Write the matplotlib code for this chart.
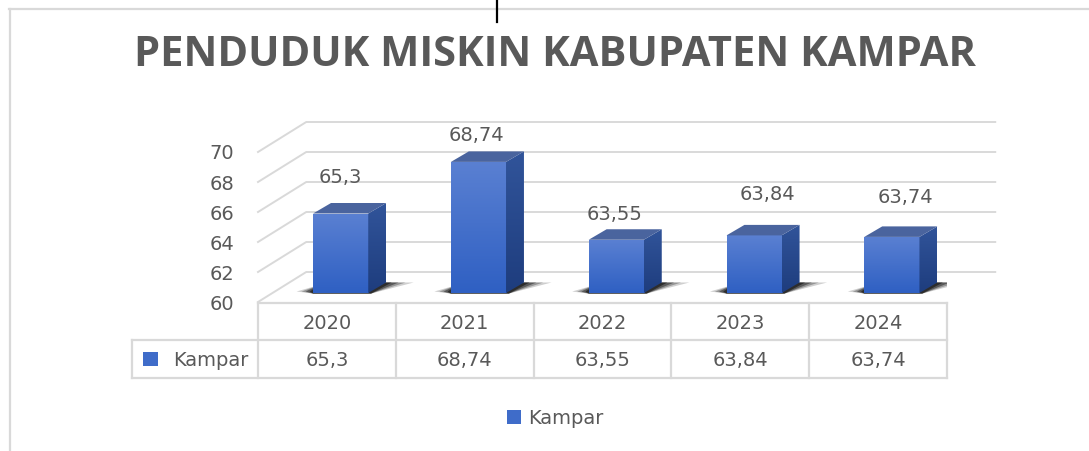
import matplotlib
matplotlib.use("Agg")
import matplotlib.pyplot as plt
import numpy as np
from matplotlib.patches import Polygon, Rectangle, Patch
from matplotlib.colors import LinearSegmentedColormap
from matplotlib.lines import Line2D
from matplotlib.transforms import blended_transform_factory

# data
YEARS = ["2020", "2021", "2022", "2023", "2024"]
KAMPAR = [65.3, 68.74, 63.55, 63.84, 63.74]
SERIES = "Kampar"
TITLE = "PENDUDUK MISKIN KABUPATEN KAMPAR"
Y_TICKS = [60, 62, 64, 66, 68, 70]

# styling / layout
W_PX, H_PX = 1089, 451
TEXT = "#595959"
GRID = "#d9d9d9"
KEY = "#3f6cc9"
FRONT = LinearSegmentedColormap.from_list("front", ["#2f60c3", "#5a80d2"])
SIDE = LinearSegmentedColormap.from_list("side", ["#1e3d7e", "#31549a"])
TOP_COL = "#4a649e"
WALL_DX, WALL_DY = 0.35, 2.0
BAR_SHIFT, BAR_W, BAR_LIFT = 0.1, 0.4, 0.6
SIDE_DX, SIDE_DY = 0.13, 0.7
LABEL_DX = [0, -0.015, -0.015, 0.1, 0.095]
LABEL_DY = [2.4, 1.75, 1.65, 2.7, 2.65]
FS = 14


def fmt(v):
    return f"{v:g}".replace(".", ",")


plt.rcParams['font.family'] = ['DejaVu Sans']

fig = plt.figure(figsize=(W_PX / 100, H_PX / 100), dpi=100)
fig.patch.set_facecolor("white")

# chart frame + cursor line
fig.add_artist(Line2D([9 / W_PX, 1], [1 - 9 / H_PX, 1 - 9 / H_PX], transform=fig.transFigure, color=GRID, lw=1.6))
fig.add_artist(Line2D([10 / W_PX, 10 / W_PX], [0, 1 - 9 / H_PX], transform=fig.transFigure, color=GRID, lw=1.6))
fig.add_artist(Line2D([497 / W_PX, 497 / W_PX], [1, 1 - 22 / H_PX], transform=fig.transFigure, color="black", lw=1.6))

fig.text(555 / W_PX, 1 - 56 / H_PX, TITLE, ha="center", va="center", fontsize=30,
         fontweight="bold", color=TEXT, family="Open Sans")

ax_l, ax_r, ax_t, ax_b = 258, 947, 122, 302
ax = fig.add_axes([ax_l / W_PX, 1 - ax_b / H_PX, (ax_r - ax_l) / W_PX, (ax_b - ax_t) / H_PX])
x = np.arange(len(YEARS))
xmin, xmax = -0.5, len(YEARS) - 0.5
ymin, ymax = Y_TICKS[0], Y_TICKS[-1] + WALL_DY

# back wall gridlines and left side diagonals
for t in Y_TICKS:
    ax.plot([xmin, xmin + WALL_DX, xmax + WALL_DX], [t, t + WALL_DY, t + WALL_DY],
            color=GRID, lw=1.4, clip_on=False, zorder=0)

grad = np.linspace(0, 1, 64).reshape(-1, 1)
for i, v in enumerate(KAMPAR):
    x0 = x[i] + BAR_SHIFT - BAR_W / 2
    x1 = x0 + BAR_W
    y0 = ymin + BAR_LIFT
    y1 = v + BAR_LIFT
    # soft shadow on the floor, darker close to the bar
    for g, a in [(1.0, 0.2), (0.7, 0.3), (0.45, 0.45), (0.2, 0.6)]:
        sh = Polygon([(x0 - 0.12 * g, y0 + 0.1), (x0 + 0.05, y0 + 0.55),
                      (x1 + SIDE_DX, y0 + SIDE_DY), (x1 + SIDE_DX + 0.2 * g, y0 + SIDE_DY),
                      (x1 + 0.02, y0 - 0.04), (x0, y0 - 0.04)],
                     closed=True, facecolor="#111111", edgecolor="none", alpha=a, zorder=1)
        ax.add_patch(sh)
    # front face
    front = Rectangle((x0, y0), BAR_W, y1 - y0, facecolor="none", edgecolor="none")
    ax.add_patch(front)
    im = ax.imshow(grad, extent=(x0, x1, y0, y1), origin="lower", cmap=FRONT,
                   aspect="auto", interpolation="bicubic", zorder=3)
    im.set_clip_path(front)
    # side face
    side = Polygon([(x1, y0), (x1 + SIDE_DX, y0 + SIDE_DY), (x1 + SIDE_DX, y1 + SIDE_DY), (x1, y1)],
                   closed=True, facecolor="none", edgecolor="none")
    ax.add_patch(side)
    im2 = ax.imshow(grad, extent=(x1, x1 + SIDE_DX, y0, y1 + SIDE_DY), origin="lower", cmap=SIDE,
                    aspect="auto", interpolation="bicubic", zorder=3)
    im2.set_clip_path(side)
    # top face
    ax.add_patch(Polygon([(x0, y1), (x1, y1), (x1 + SIDE_DX, y1 + SIDE_DY), (x0 + SIDE_DX, y1 + SIDE_DY)],
                         closed=True, facecolor=TOP_COL, edgecolor="none", zorder=3))
    ax.text(x[i] + BAR_SHIFT + LABEL_DX[i], y1 + LABEL_DY[i], fmt(v), ha="center", va="center",
            fontsize=FS, color=TEXT, zorder=5)

ax.set_xlim(xmin, xmax)
ax.set_ylim(ymin, ymax)
ax.set_xticks([])
ax.set_yticks(Y_TICKS)
ax.set_yticklabels([str(t) for t in Y_TICKS])
ax.tick_params(axis="y", length=0, pad=17, labelsize=FS, labelcolor=TEXT)
for s in ax.spines.values():
    s.set_visible(False)
ax.patch.set_alpha(0)

# data table under the axis (x in data units, y in axes units)
tr = blended_transform_factory(ax.transData, ax.transAxes)
span = ax_b - ax_t
row_top, row_mid, row_bot = (ax_b - 303) / span, (ax_b - 340) / span, (ax_b - 378) / span
txt_dy = 2 / span
lab_x = xmin - (ax_l - 132) / ((ax_r - ax_l) / len(YEARS))
tkw = dict(color=GRID, lw=1.6, transform=tr, clip_on=False, solid_capstyle="projecting")
ax.plot([xmin, xmax], [row_top, row_top], **tkw)
ax.plot([lab_x, xmax], [row_mid, row_mid], **tkw)
ax.plot([lab_x, xmax], [row_bot, row_bot], **tkw)
ax.plot([lab_x, lab_x], [row_mid, row_bot], **tkw)
for b in np.arange(xmin, xmax + 0.5, 1.0):
    ax.plot([b, b], [row_top, row_bot], **tkw)
for j, yr in enumerate(YEARS):
    ax.text(x[j], (row_top + row_mid) / 2 - txt_dy, yr, transform=tr, ha="center", va="center",
            fontsize=FS, color=TEXT)
    ax.text(x[j], (row_mid + row_bot) / 2 - txt_dy / 2, fmt(KAMPAR[j]), transform=tr,
            ha="center", va="center", fontsize=FS, color=TEXT)
ax.text(xmin - 0.07, (row_mid + row_bot) / 2 - txt_dy / 2, SERIES, transform=tr, ha="right",
        va="center", fontsize=FS, color=TEXT)

# series key inside the row label
ax.add_patch(Rectangle(((143 - ax_l) / (ax_r - ax_l), (ax_b - 366) / span),
                       15 / (ax_r - ax_l), 14 / span, transform=ax.transAxes,
                       facecolor=KEY, edgecolor="none", clip_on=False))

fig.legend(handles=[Patch(facecolor=KEY, edgecolor="none")], labels=[SERIES],
           loc="center left", bbox_to_anchor=(507 / W_PX, 1 - 418 / H_PX), frameon=False,
           borderaxespad=0, borderpad=0,
           fontsize=FS, labelcolor=TEXT, handlelength=0.7, handleheight=0.7, handletextpad=0.4)

fig.savefig("out.png", dpi=100)
